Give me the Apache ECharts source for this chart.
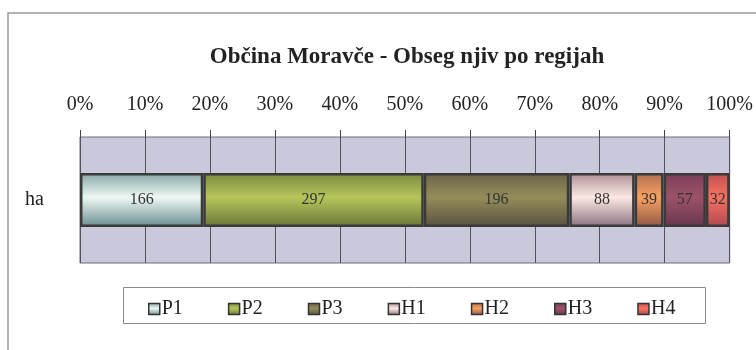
<!DOCTYPE html>
<html>
<head>
<meta charset="utf-8">
<script src="https://cdn.jsdelivr.net/npm/echarts@6/dist/echarts.min.js"></script>
<style>
  html, body { margin: 0; padding: 0; background: #ffffff; }
  #chart { width: 756px; height: 350px; }
</style>
</head>
<body>
<div id="chart"></div>
<script>
// Area of fields (ha) per region in Moravče
const categories = ['ha'];
const regions = ['P1', 'P2', 'P3', 'H1', 'H2', 'H3', 'H4'];
const hectares = [166, 297, 196, 88, 39, 57, 32];
const percentTicks = ['0%', '10%', '20%', '30%', '40%', '50%', '60%', '70%', '80%', '90%', '100%'];

// Cylinder-like shading: darker edges, lighter middle band
const shades = [
  ['#85a6a6', '#eef8f2', '#6a8c90'],
  ['#7a8840', '#b6c65a', '#687638'],
  ['#6a6448', '#968c5a', '#585240'],
  ['#ae8e98', '#fbe9e2', '#8a7080'],
  ['#b07050', '#f8a060', '#905848'],
  ['#7a4058', '#9c5268', '#683650'],
  ['#c05050', '#f87262', '#b04850']
];

const total = hectares.reduce((a, b) => a + b, 0);
const serif = '"Liberation Serif", "Times New Roman", serif';

function grad(c) {
  return new echarts.graphic.LinearGradient(0, 0, 0, 1, [
    { offset: 0, color: c[0] },
    { offset: 0.45, color: c[1] },
    { offset: 1, color: c[2] }
  ]);
}

const series = regions.map((name, i) => ({
  name: name,
  type: 'bar',
  stack: 'all',
  barWidth: 54,
  data: [hectares[i]],
  itemStyle: { color: grad(shades[i]), borderColor: '#3a3a3a', borderWidth: 2.5 },
  label: {
    show: true,
    position: 'inside',
    formatter: '{c}',
    fontFamily: serif,
    fontSize: 16,
    color: '#333333'
  },
  emphasis: { disabled: true }
}));

const chart = echarts.init(document.getElementById('chart'), null, { renderer: 'canvas' });
chart.setOption({
  animation: false,
  backgroundColor: '#ffffff',
  title: {
    text: 'Občina Moravče - Obseg njiv po regijah',
    left: 402,
    top: 41,
    textAlign: 'center',
    textStyle: { fontFamily: serif, fontWeight: 'bold', fontSize: 23, color: '#222222' }
  },
  grid: {
    left: 80, right: 26, top: 137, bottom: 87,
    show: true,
    backgroundColor: '#c9c9db',
    borderColor: '#6a6a78',
    borderWidth: 1
  },
  xAxis: {
    type: 'value',
    position: 'top',
    min: 0,
    max: total,
    interval: total / 10,
    axisLine: { show: false },
    axisTick: { show: true, length: 7, lineStyle: { color: '#444' } },
    splitLine: { show: true, lineStyle: { color: '#50505e', width: 1 } },
    axisLabel: {
      margin: 22,
      fontFamily: serif,
      fontSize: 20,
      color: '#222222',
      formatter: v => percentTicks[Math.round(v / total * 10)]
    }
  },
  yAxis: {
    type: 'category',
    data: categories,
    axisLine: { show: false },
    axisTick: { show: false },
    axisLabel: { margin: 36, fontFamily: serif, fontSize: 20, color: '#222222' }
  },
  legend: {
    data: regions,
    left: 143,
    top: 294,
    icon: 'rect',
    itemWidth: 11,
    itemHeight: 11,
    itemGap: 45,
    itemStyle: { borderColor: '#333333', borderWidth: 1.5 },
    textStyle: { fontFamily: serif, fontSize: 20, color: '#222222', padding: [0, 0, 0, -3] }
  },
  graphic: [
    { type: 'polyline', shape: { points: [[8, 360], [8, 13], [760, 13]] },
      style: { stroke: '#9a9a9a', lineWidth: 1.5, fill: null }, silent: true },
    { type: 'rect', shape: { x: 123.5, y: 287.5, width: 582, height: 36 },
      style: { stroke: '#8a8a8a', lineWidth: 1, fill: null }, silent: true, z: -1 }
  ],
  series: series
});
</script>
</body>
</html>
